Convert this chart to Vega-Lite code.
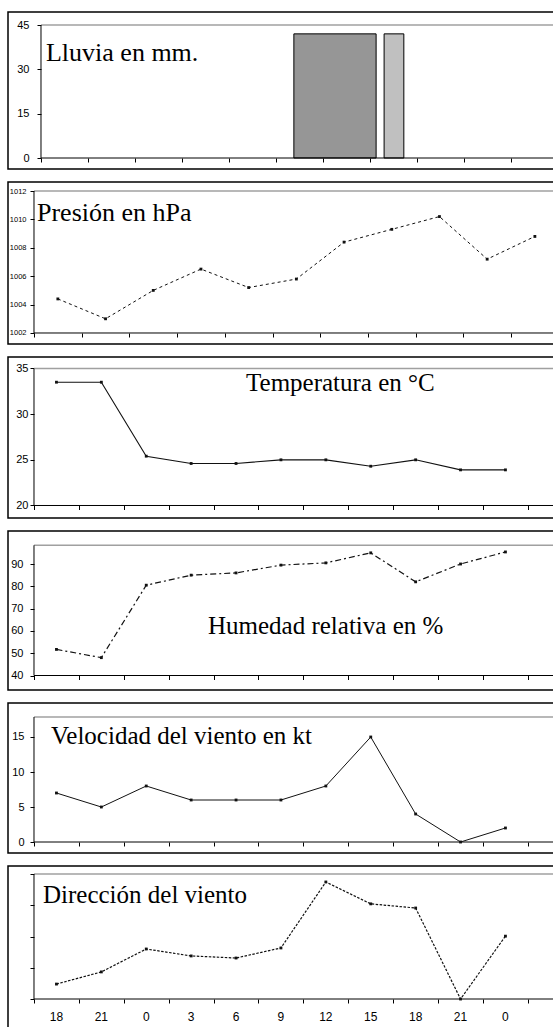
{
"$schema": "https://vega.github.io/schema/vega-lite/v6.json",
"padding": {"left": 7, "top": 11, "right": 0, "bottom": 0},
"background": "#ffffff",
"spacing": 13,
"bounds": "flush",
"datasets": {
  "horas": [
    {"i": 0, "hora": "18", "presion": 1004.4, "temperatura": 33.5, "humedad": 51.7, "viento": 7, "direccion": 43},
    {"i": 1, "hora": "21", "presion": 1003.0, "temperatura": 33.5, "humedad": 48, "viento": 5, "direccion": 78},
    {"i": 2, "hora": "0", "presion": 1005.0, "temperatura": 25.4, "humedad": 80.5, "viento": 8, "direccion": 144},
    {"i": 3, "hora": "3", "presion": 1006.5, "temperatura": 24.6, "humedad": 85, "viento": 6, "direccion": 124},
    {"i": 4, "hora": "6", "presion": 1005.2, "temperatura": 24.6, "humedad": 86, "viento": 6, "direccion": 118},
    {"i": 5, "hora": "9", "presion": 1005.8, "temperatura": 25.0, "humedad": 89.5, "viento": 6, "direccion": 147},
    {"i": 6, "hora": "12", "presion": 1008.4, "temperatura": 25.0, "humedad": 90.5, "viento": 8, "direccion": 337},
    {"i": 7, "hora": "15", "presion": 1009.3, "temperatura": 24.3, "humedad": 95, "viento": 15, "direccion": 274},
    {"i": 8, "hora": "18", "presion": 1010.2, "temperatura": 25.0, "humedad": 82, "viento": 4, "direccion": 262},
    {"i": 9, "hora": "21", "presion": 1007.2, "temperatura": 23.9, "humedad": 90, "viento": 0, "direccion": 0},
    {"i": 10, "hora": "0", "presion": 1008.8, "temperatura": 23.9, "humedad": 95.4, "viento": 2, "direccion": 181}
  ],
  "lluvia": [
    {"inicio": 4.88, "fin": 6.63, "mm": 42, "serie": "a"},
    {"inicio": 6.80, "fin": 7.22, "mm": 42, "serie": "b"}
  ]
},
"config": {
  "view": {"stroke": "#000000", "strokeWidth": 1.5, "fill": "#ffffff"},
  "axis": {"grid": false, "domain": false, "ticks": true, "tickColor": "#000000", "tickSize": 4, "tickWidth": 1, "labelColor": "#000000", "labelFont": "Liberation Sans", "labelFontSize": 11, "labelOverlap": false, "labelBound": false, "labelFlush": false, "format": "d"}
},
"vconcat": [
  {
    "width": 548, "height": 157,
    "resolve": {"axis": {"x": "independent", "y": "independent"}},
    "layer": [
      {"data": {"values": [{}]}, "mark": {"type": "rule", "color": "#a0a0a0", "strokeWidth": 1.5},
       "encoding": {"x": {"datum": -0.5, "axis": null}, "x2": {"datum": 10.4574}, "y": {"datum": 45, "axis": null}}},
      {"data": {"name": "lluvia"}, "mark": {"type": "bar", "stroke": "#000000", "strokeWidth": 1},
       "encoding": {
         "x": {"field": "inicio", "type": "quantitative", "scale": {"domain": [-1.2021, 10.4574], "nice": false, "zero": false},
               "axis": {"orient": "bottom", "offset": -11, "values": [-0.5,0.5,1.5,2.5,3.5,4.5,5.5,6.5,7.5,8.5,9.5,10.5], "labels": false, "title": null}},
         "x2": {"field": "fin"},
         "y": {"field": "mm", "type": "quantitative", "scale": {"domain": [-3.72, 49.40], "nice": false, "zero": false},
               "axis": {"orient": "left", "offset": -33, "values": [0, 15, 30, 45], "labelPadding": 8, "labelOverlap": false, "title": null}},
         "y2": {"datum": 0},
         "color": {"field": "serie", "type": "nominal", "scale": {"domain": ["a", "b"], "range": ["#969696", "#c0c0c0"]}, "legend": null}
       }},
      {"data": {"values": [{}]}, "mark": {"type": "rule", "color": "#000000", "strokeWidth": 1},
       "encoding": {"x": {"datum": -0.5, "axis": null}, "x2": {"datum": 10.4574}, "y": {"datum": 0, "axis": null}}},
      {"data": {"values": [{}]}, "mark": {"type": "rule", "color": "#000000", "strokeWidth": 1},
       "encoding": {"x": {"datum": -0.5, "axis": null}, "y": {"datum": 0, "axis": null}, "y2": {"datum": 45}}},
      {"data": {"values": [{}]}, "mark": {"type": "text", "font": "Liberation Serif", "fontSize": 26, "align": "left", "baseline": "alphabetic", "color": "#000000"},
       "encoding": {"x": {"datum": -0.394, "axis": null}, "y": {"datum": 32.82, "axis": null}, "text": {"value": "Lluvia en mm."}}}
    ]
  },
  {
    "width": 548, "height": 162,
    "resolve": {"axis": {"x": "independent", "y": "independent"}},
    "layer": [
      {"data": {"values": [{}]}, "mark": {"type": "rule", "color": "#a0a0a0", "strokeWidth": 1.5},
       "encoding": {"x": {"datum": -0.5, "axis": null}, "x2": {"datum": 10.443}, "y": {"datum": 1012, "axis": null}}},
      {"data": {"values": [{}]}, "mark": {"type": "rule", "color": "#000000", "strokeWidth": 1},
       "encoding": {"x": {"datum": -0.5, "axis": null}, "x2": {"datum": 10.443}, "y": {"datum": 1002, "axis": null}}},
      {"data": {"values": [{}]}, "mark": {"type": "rule", "color": "#000000", "strokeWidth": 1},
       "encoding": {"x": {"datum": -0.5, "axis": null}, "y": {"datum": 1002, "axis": null}, "y2": {"datum": 1012}}},
      {"data": {"name": "horas"}, "mark": {"type": "line", "color": "#111111", "strokeWidth": 1, "strokeDash": [3, 3]},
       "encoding": {
         "x": {"field": "i", "type": "quantitative", "scale": {"domain": [-1.045, 10.443], "nice": false, "zero": false},
               "axis": {"orient": "bottom", "offset": -11, "values": [-0.5,0.5,1.5,2.5,3.5,4.5,5.5,6.5,7.5,8.5,9.5,10.5], "labels": false, "title": null}},
         "y": {"field": "presion", "type": "quantitative", "scale": {"domain": [1001.225, 1012.634], "nice": false, "zero": false},
               "axis": {"orient": "left", "offset": -26, "values": [1002, 1004, 1006, 1008, 1010, 1012], "format": "d", "labelFontSize": 7.5, "labelPadding": 4, "labelOverlap": false, "title": null}}
       }},
      {"data": {"name": "horas"}, "mark": {"type": "point", "shape": "square", "filled": true, "size": 8, "color": "#111111", "opacity": 1},
       "encoding": {"x": {"field": "i", "type": "quantitative", "axis": null}, "y": {"field": "presion", "type": "quantitative", "axis": null}}},
      {"data": {"values": [{}]}, "mark": {"type": "text", "font": "Liberation Serif", "fontSize": 26, "align": "left", "baseline": "alphabetic", "color": "#000000"},
       "encoding": {"x": {"datum": -0.437, "axis": null}, "y": {"datum": 1009.89, "axis": null}, "text": {"value": "Presión en hPa"}}}
    ]
  },
  {
    "width": 548, "height": 161,
    "resolve": {"axis": {"x": "independent", "y": "independent"}},
    "layer": [
      {"data": {"values": [{}]}, "mark": {"type": "rule", "color": "#a0a0a0", "strokeWidth": 1.5},
       "encoding": {"x": {"datum": -0.5, "axis": null}, "x2": {"datum": 11.126}, "y": {"datum": 35, "axis": null}}},
      {"data": {"values": [{}]}, "mark": {"type": "rule", "color": "#000000", "strokeWidth": 1},
       "encoding": {"x": {"datum": -0.5, "axis": null}, "x2": {"datum": 11.126}, "y": {"datum": 20, "axis": null}}},
      {"data": {"values": [{}]}, "mark": {"type": "rule", "color": "#000000", "strokeWidth": 1},
       "encoding": {"x": {"datum": -0.5, "axis": null}, "y": {"datum": 20, "axis": null}, "y2": {"datum": 35}}},
      {"data": {"name": "horas"}, "mark": {"type": "line", "color": "#111111", "strokeWidth": 1.1},
       "encoding": {
         "x": {"field": "i", "type": "quantitative", "scale": {"domain": [-1.079, 11.126], "nice": false, "zero": false},
               "axis": {"orient": "bottom", "offset": -12.5, "values": [-0.5,0.5,1.5,2.5,3.5,4.5,5.5,6.5,7.5,8.5,9.5,10.5], "labels": false, "title": null}},
         "y": {"field": "temperatura", "type": "quantitative", "scale": {"domain": [18.631, 36.259], "nice": false, "zero": false},
               "axis": {"orient": "left", "offset": -26, "values": [20, 25, 30, 35], "labelPadding": 2, "labelOverlap": false, "title": null}}
       }},
      {"data": {"name": "horas"}, "mark": {"type": "point", "shape": "square", "filled": true, "size": 8, "color": "#111111", "opacity": 1},
       "encoding": {"x": {"field": "i", "type": "quantitative", "axis": null}, "y": {"field": "temperatura", "type": "quantitative", "axis": null}}},
      {"data": {"values": [{}]}, "mark": {"type": "text", "font": "Liberation Serif", "fontSize": 25, "align": "left", "baseline": "alphabetic", "color": "#000000"},
       "encoding": {"x": {"datum": 4.222, "axis": null}, "y": {"datum": 32.54, "axis": null}, "text": {"value": "Temperatura en °C"}}}
    ]
  },
  {
    "width": 548, "height": 159,
    "resolve": {"axis": {"x": "independent", "y": "independent"}},
    "layer": [
      {"data": {"values": [{}]}, "mark": {"type": "rule", "color": "#a0a0a0", "strokeWidth": 1.5},
       "encoding": {"x": {"datum": -0.5, "axis": null}, "x2": {"datum": 11.126}, "y": {"datum": 98.4, "axis": null}}},
      {"data": {"values": [{}]}, "mark": {"type": "rule", "color": "#000000", "strokeWidth": 1},
       "encoding": {"x": {"datum": -0.5, "axis": null}, "x2": {"datum": 11.126}, "y": {"datum": 40, "axis": null}}},
      {"data": {"values": [{}]}, "mark": {"type": "rule", "color": "#000000", "strokeWidth": 1},
       "encoding": {"x": {"datum": -0.5, "axis": null}, "y": {"datum": 40, "axis": null}, "y2": {"datum": 98.4}}},
      {"data": {"name": "horas"}, "mark": {"type": "line", "color": "#111111", "strokeWidth": 1.2, "strokeDash": [6, 3, 2, 3]},
       "encoding": {
         "x": {"field": "i", "type": "quantitative", "scale": {"domain": [-1.079, 11.126], "nice": false, "zero": false},
               "axis": {"orient": "bottom", "offset": -14.5, "values": [-0.5,0.5,1.5,2.5,3.5,4.5,5.5,6.5,7.5,8.5,9.5,10.5], "labels": false, "title": null}},
         "y": {"field": "humedad", "type": "quantitative", "scale": {"domain": [33.5, 104.8], "nice": false, "zero": false},
               "axis": {"orient": "left", "offset": -26, "values": [40, 50, 60, 70, 80, 90], "labelPadding": 7, "labelOverlap": false, "title": null}}
       }},
      {"data": {"name": "horas"}, "mark": {"type": "point", "shape": "square", "filled": true, "size": 8, "color": "#111111", "opacity": 1},
       "encoding": {"x": {"field": "i", "type": "quantitative", "axis": null}, "y": {"field": "humedad", "type": "quantitative", "axis": null}}},
      {"data": {"values": [{}]}, "mark": {"type": "text", "font": "Liberation Serif", "fontSize": 25, "align": "left", "baseline": "alphabetic", "color": "#000000"},
       "encoding": {"x": {"datum": 3.375, "axis": null}, "y": {"datum": 58.61, "axis": null}, "text": {"value": "Humedad relativa en %"}}}
    ]
  },
  {
    "width": 548, "height": 150,
    "resolve": {"axis": {"x": "independent", "y": "independent"}},
    "layer": [
      {"data": {"values": [{}]}, "mark": {"type": "rule", "color": "#a0a0a0", "strokeWidth": 1.5},
       "encoding": {"x": {"datum": -0.5, "axis": null}, "x2": {"datum": 11.126}, "y": {"datum": 17.857, "axis": null}}},
      {"data": {"values": [{}]}, "mark": {"type": "rule", "color": "#000000", "strokeWidth": 1},
       "encoding": {"x": {"datum": -0.5, "axis": null}, "x2": {"datum": 11.126}, "y": {"datum": 0, "axis": null}}},
      {"data": {"values": [{}]}, "mark": {"type": "rule", "color": "#000000", "strokeWidth": 1},
       "encoding": {"x": {"datum": -0.5, "axis": null}, "y": {"datum": 0, "axis": null}, "y2": {"datum": 17.857}}},
      {"data": {"name": "horas"}, "mark": {"type": "line", "color": "#111111", "strokeWidth": 1},
       "encoding": {
         "x": {"field": "i", "type": "quantitative", "scale": {"domain": [-1.079, 11.126], "nice": false, "zero": false},
               "axis": {"orient": "bottom", "offset": -11, "values": [-0.5,0.5,1.5,2.5,3.5,4.5,5.5,6.5,7.5,8.5,9.5,10.5], "labels": false, "title": null}},
         "y": {"field": "viento", "type": "quantitative", "scale": {"domain": [-1.571, 19.857], "nice": false, "zero": false},
               "axis": {"orient": "left", "offset": -26, "values": [0, 5, 10, 15], "labelPadding": 6, "labelOverlap": false, "title": null}}
       }},
      {"data": {"name": "horas"}, "mark": {"type": "point", "shape": "square", "filled": true, "size": 8, "color": "#111111", "opacity": 1},
       "encoding": {"x": {"field": "i", "type": "quantitative", "axis": null}, "y": {"field": "viento", "type": "quantitative", "axis": null}}},
      {"data": {"values": [{}]}, "mark": {"type": "text", "font": "Liberation Serif", "fontSize": 25, "align": "left", "baseline": "alphabetic", "color": "#000000"},
       "encoding": {"x": {"datum": -0.121, "axis": null}, "y": {"datum": 14.0, "axis": null}, "text": {"value": "Velocidad del viento en kt"}}}
    ]
  },
  {
    "width": 548, "height": 170,
    "resolve": {"axis": {"x": "independent", "y": "independent"}},
    "layer": [
      {"data": {"values": [{}]}, "mark": {"type": "rule", "color": "#a0a0a0", "strokeWidth": 1.5},
       "encoding": {"x": {"datum": -0.5, "axis": null}, "x2": {"datum": 11.126}, "y": {"datum": 360, "axis": null}}},
      {"data": {"values": [{}]}, "mark": {"type": "rule", "color": "#000000", "strokeWidth": 1},
       "encoding": {"x": {"datum": -0.5, "axis": null}, "x2": {"datum": 11.126}, "y": {"datum": 0, "axis": null}}},
      {"data": {"values": [{}]}, "mark": {"type": "rule", "color": "#000000", "strokeWidth": 1},
       "encoding": {"x": {"datum": -0.5, "axis": null}, "y": {"datum": 0, "axis": null}, "y2": {"datum": 360}}},
      {"data": {"name": "horas"}, "mark": {"type": "line", "color": "#111111", "strokeWidth": 1.2, "strokeDash": [2.5, 1.5]},
       "encoding": {
         "x": {"field": "i", "type": "quantitative", "scale": {"domain": [-1.079, 11.126], "nice": false, "zero": false},
               "axis": {"orient": "bottom", "offset": -37, "values": [-0.5,0.5,1.5,2.5,3.5,4.5,5.5,6.5,7.5,8.5,9.5,10.5], "labels": false, "title": null}},
         "y": {"field": "direccion", "type": "quantitative", "scale": {"domain": [-106.56, 383.04], "nice": false, "zero": false},
               "axis": {"orient": "left", "offset": -26, "values": [0, 90, 180, 270, 360], "labels": false, "title": null}}
       }},
      {"data": {"name": "horas"}, "mark": {"type": "point", "shape": "square", "filled": true, "size": 8, "color": "#111111", "opacity": 1},
       "encoding": {"x": {"field": "i", "type": "quantitative", "axis": null}, "y": {"field": "direccion", "type": "quantitative", "axis": null}}},
      {"data": {"name": "horas"}, "mark": {"type": "text", "font": "Liberation Sans", "fontSize": 12, "align": "center", "baseline": "middle", "dy": 18, "color": "#000000"},
       "encoding": {"x": {"field": "i", "type": "quantitative", "axis": null}, "y": {"datum": 0, "axis": null}, "text": {"field": "hora"}}},
      {"data": {"values": [{}]}, "mark": {"type": "text", "font": "Liberation Serif", "fontSize": 25, "align": "left", "baseline": "alphabetic", "color": "#000000"},
       "encoding": {"x": {"datum": -0.3, "axis": null}, "y": {"datum": 276.5, "axis": null}, "text": {"value": "Dirección del viento"}}}
    ]
  }
]
}
